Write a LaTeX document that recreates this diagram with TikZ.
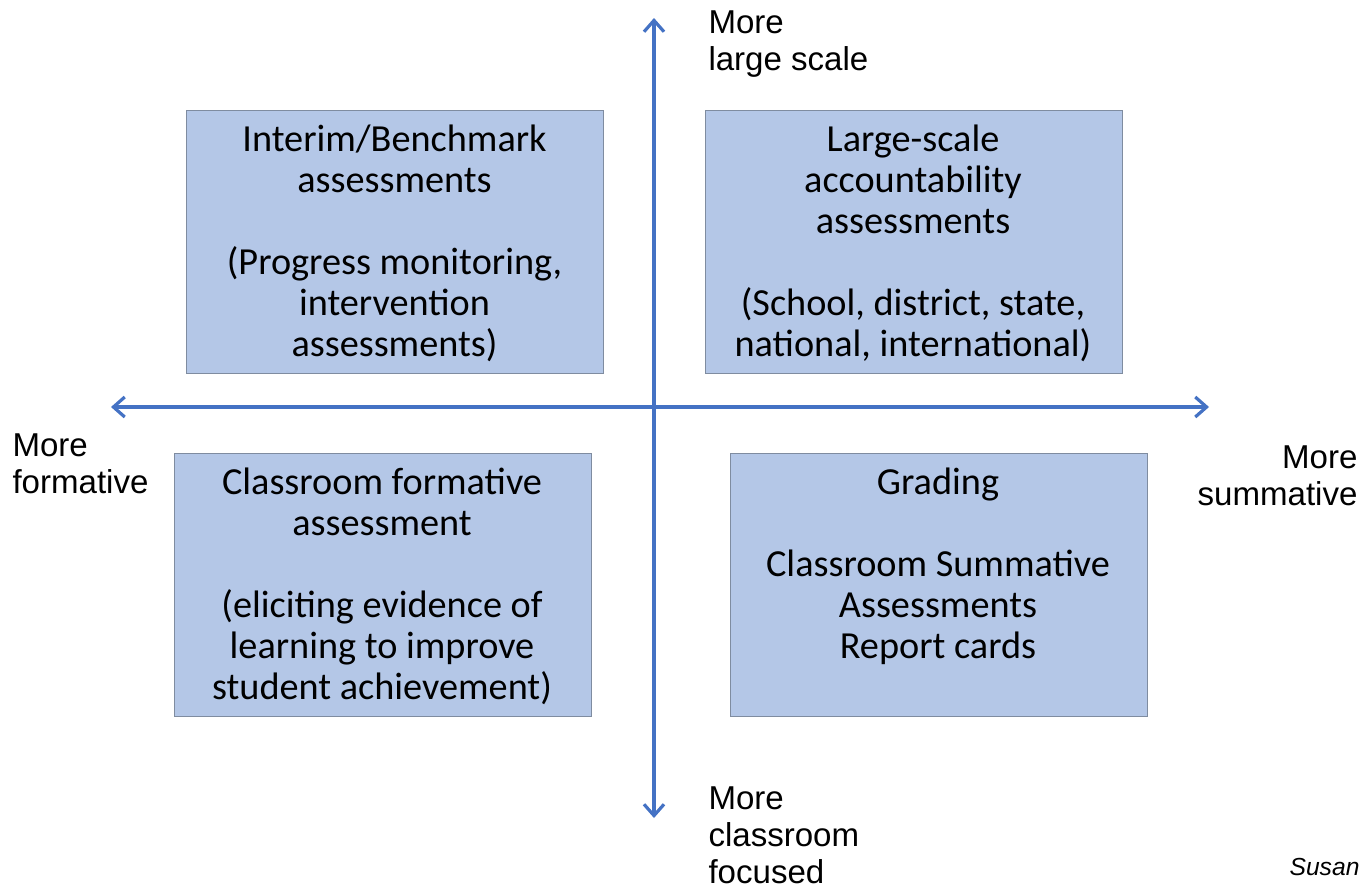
\documentclass[tikz,border=0pt]{standalone}
\usepackage{fontspec}
\setmainfont{Carlito}
\newfontfamily\axisfont{Liberation Sans}
\usetikzlibrary{arrows.meta}

\definecolor{axisblue}{RGB}{68,114,196}
\definecolor{quadfill}{RGB}{180,199,231}
\definecolor{quadline}{RGB}{127,140,160}

\tikzset{every picture/.style={line width=0.75pt}}
\tikzset{
  quadbox/.style={draw=quadline, fill=quadfill, line width=0.75pt, anchor=north west,
    minimum width=312.75pt, minimum height=197.25pt, inner sep=0pt},
  quadtext/.style={anchor=north, align=center, inner sep=0pt,
    font=\fontsize{28.7}{30.75}\selectfont},
  axislabel/.style={inner sep=0pt, font=\axisfont\fontsize{24.8}{27.75}\selectfont},
  axisline/.style={draw=axisblue, line width=2.4pt,
    {Straight Barb[length=8.5pt,width=15pt]}-{Straight Barb[length=8.5pt,width=15pt]}}
}

\begin{document}
\begin{tikzpicture}[x=0.75pt,y=0.75pt,yscale=-1,xscale=1]
	\useasboundingbox (0,0) rectangle (1362,886);

	%Shape: Rectangle [id:interim]
	\node [quadbox] (interim) at (186,110) {};
	%Shape: Rectangle [id:largescale]
	\node [quadbox] (largescale) at (705,110) {};
	%Shape: Rectangle [id:formative]
	\node [quadbox] (formative) at (174,453) {};
	%Shape: Rectangle [id:grading]
	\node [quadbox] (grading) at (730,453) {};

	% Axis end points
	\coordinate (top) at (654,18);
	\coordinate (bottom) at (654,818);
	\coordinate (left) at (111,407);
	\coordinate (right) at (1209,407);

	%Straight Lines [id:vaxis]
	\draw [axisline] (top) -- (bottom);
	%Straight Lines [id:haxis]
	\draw [axisline] (left) -- (right);

	% Text Node
	\node [quadtext] (interimtext) at (394.5,124) {Interim/Benchmark\\assessments\\[30.75pt](Progress monitoring,\\intervention\\assessments)};
	% Text Node
	\node [quadtext] (largescaletext) at (913,124) {Large-scale\\accountability\\assessments\\[30.75pt](School, district, state,\\national, international)};
	% Text Node
	\node [quadtext] (formativetext) at (382,467) {Classroom formative\\assessment\\[30.75pt](eliciting evidence of\\learning to improve\\student achievement)};
	% Text Node
	\node [quadtext] (gradingtext) at (938,467) {Grading\\[30.75pt]Classroom Summative\\Assessments\\Report cards};

	% Text Node
	\node [axislabel, anchor=north west, align=left] (toplabel) at (708,10) {More\\large scale};
	% Text Node
	\node [axislabel, anchor=north west, align=left] (leftlabel) at (12,433) {More\\formative};
	% Text Node
	\node [axislabel, anchor=north east, align=right] (rightlabel) at (1358,445) {More\\summative};
	% Text Node
	\node [axislabel, anchor=north west, align=left] (bottomlabel) at (708,786) {More\\classroom\\focused};
	% Text Node
	\node [inner sep=0pt, anchor=east, font=\axisfont\itshape\fontsize{18.5}{22}\selectfont] (author) at (1360,867) {Susan};

\end{tikzpicture}
\end{document}
